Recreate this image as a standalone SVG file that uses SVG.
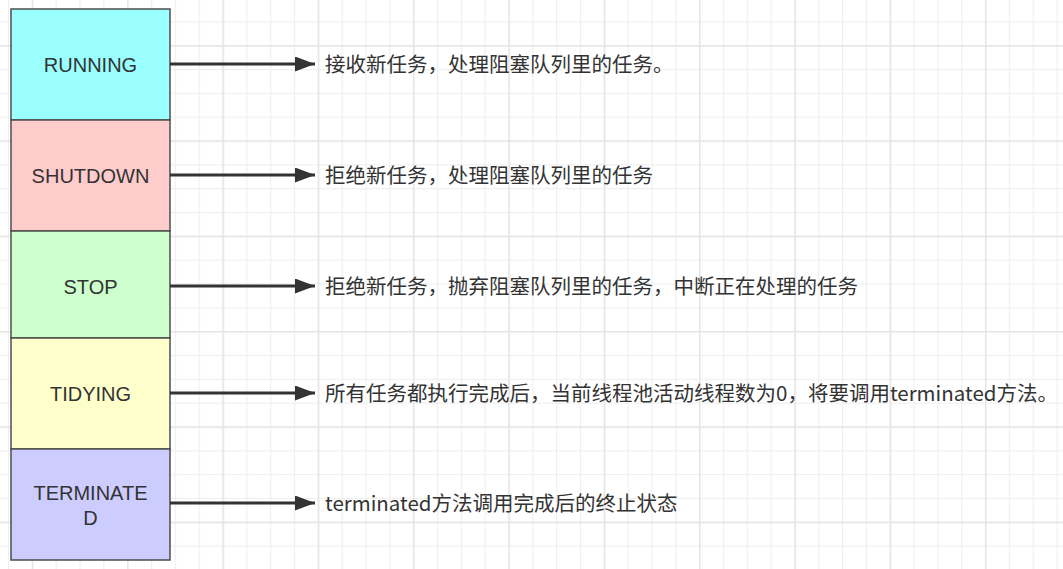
<svg xmlns="http://www.w3.org/2000/svg" width="1063" height="569" viewBox="0 0 1063 569">
  <style>
    .box { stroke: #4d4d4d; stroke-width: 1.5; }
    .lbl { font-family: "Liberation Sans", Arial, sans-serif; font-size: 20px; fill: #333333; text-anchor: middle; }
    .desc { font-family: "Noto Sans CJK SC", "Liberation Sans", sans-serif; font-size: 20.5px; fill: #333333; }
    .conn { stroke: #333333; stroke-width: 3; fill: none; }
  </style>
  <defs>
    <pattern id="minor" patternUnits="userSpaceOnUse" x="7.97" y="21.27" width="23.83" height="23.83">
      <rect x="0" y="0" width="1.2" height="23.83" fill="#efefef"/>
      <rect x="0" y="0" width="23.83" height="1.2" fill="#efefef"/>
    </pattern>
    <pattern id="major" patternUnits="userSpaceOnUse" x="31.8" y="45.1" width="95.32" height="95.32">
      <rect x="0" y="0" width="1.4" height="95.32" fill="#e4e4e4"/>
      <rect x="0" y="0" width="95.32" height="1.4" fill="#e4e4e4"/>
    </pattern>
    <marker id="arrow" markerUnits="userSpaceOnUse" markerWidth="22" markerHeight="16" refX="20" refY="7.5" orient="auto">
      <path d="M0,0 L20,7.5 L0,15 Z" fill="#333333"/>
    </marker>
  </defs>

  <rect x="0" y="0" width="1063" height="569" fill="#ffffff"/>
  <rect x="0" y="0" width="1063" height="569" fill="url(#minor)"/>
  <rect x="0" y="0" width="1063" height="569" fill="url(#major)"/>

  <g id="running">
    <rect class="box" x="11" y="9" width="159" height="111" fill="#99ffff"/>
    <text class="lbl" x="90.5" y="71.5">RUNNING</text>
  </g>
  <g id="shutdown">
    <rect class="box" x="11" y="120" width="159" height="111" fill="#ffcccc"/>
    <text class="lbl" x="90.5" y="182.5">SHUTDOWN</text>
  </g>
  <g id="stop">
    <rect class="box" x="11" y="231" width="159" height="107" fill="#ccffcc"/>
    <text class="lbl" x="90.5" y="293.5">STOP</text>
  </g>
  <g id="tidying">
    <rect class="box" x="11" y="338" width="159" height="111" fill="#ffffcc"/>
    <text class="lbl" x="90.5" y="400.5">TIDYING</text>
  </g>
  <g id="terminated">
    <rect class="box" x="11" y="449" width="159" height="111" fill="#ccccff"/>
    <text class="lbl" x="90.5" y="499.5">TERMINATE</text>
    <text class="lbl" x="90.5" y="524.5">D</text>
  </g>

  <g id="connectors">
    <line class="conn" x1="170" y1="64" x2="315" y2="64" marker-end="url(#arrow)"/>
    <line class="conn" x1="170" y1="175" x2="315" y2="175" marker-end="url(#arrow)"/>
    <line class="conn" x1="170" y1="286" x2="315" y2="286" marker-end="url(#arrow)"/>
    <line class="conn" x1="170" y1="393" x2="315" y2="393" marker-end="url(#arrow)"/>
    <line class="conn" x1="170" y1="503" x2="315" y2="503" marker-end="url(#arrow)"/>
  </g>

  <g id="descriptions">
    <text class="desc" x="325" y="71.5">接收新任务，处理阻塞队列里的任务。</text>
    <text class="desc" x="325" y="182.5">拒绝新任务，处理阻塞队列里的任务</text>
    <text class="desc" x="325" y="293.5">拒绝新任务，抛弃阻塞队列里的任务，中断正在处理的任务</text>
    <text class="desc" x="325" y="400.5">所有任务都执行完成后，当前线程池活动线程数为0，将要调用terminated方法。</text>
    <text class="desc" x="325" y="510.5">terminated方法调用完成后的终止状态</text>
  </g>
</svg>
